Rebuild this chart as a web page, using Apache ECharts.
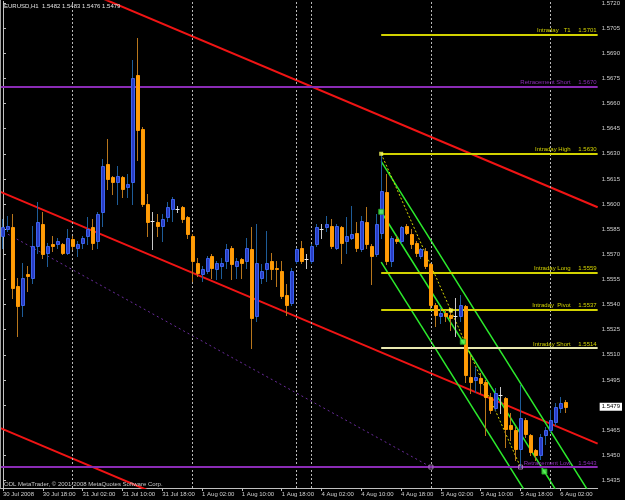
<!DOCTYPE html>
<html><head><meta charset="utf-8">
<script src="https://cdn.jsdelivr.net/npm/echarts@6/dist/echarts.min.js"></script>
<style>html,body{margin:0;padding:0;background:#000;} #c{width:625px;height:500px;}</style>
</head><body><div id="c"></div>
<script>
// ---- data ----
const opens = [1.5581,1.5585,1.5586,1.5551,1.5540,1.5558,1.5556,1.5575,1.5588,1.5571,
1.5576,1.5576,1.5576,1.5571,1.5579,1.5574,1.5577,1.5581,1.5586,1.5578,
1.5595,1.5624,1.5616,1.5613,1.5616,1.5610,1.5613,1.5677,1.5645,1.5600,
1.5590,1.5589,1.5587,1.5592,1.5597,1.5597,1.5598,1.5592,1.5581,1.5565,
1.5558,1.5560,1.5569,1.5561,1.5563,1.5566,1.5574,1.5563,1.5567,1.5566,
1.5573,1.5533,1.5556,1.5561,1.5566,1.5562,1.5560,1.5546,1.5541,1.5566,
1.5574,1.5567,1.5566,1.5576,1.5585,1.5586,1.5587,1.5574,1.5586,1.5578,
1.5580,1.5583,1.5573,1.5589,1.5575,1.5570,1.5583,1.5607,1.5566,1.5579,
1.5578,1.5587,1.5582,1.5577,1.5569,1.5572,1.5564,1.5540,1.5533,1.5535,
1.5534,1.5533,1.5533,1.5539,1.5497,1.5495,1.5496,1.5494,1.5485,1.5478,
1.5486,1.5484,1.5468,1.5465,1.5454,1.5471,1.5462,1.5453,1.5450,1.5462,
1.5465,1.5470,1.5478,1.5482];
const highs = [1.5591,1.5593,1.5594,1.5556,1.5565,1.5563,1.5587,1.5601,1.5595,1.5577,
1.5581,1.5580,1.5577,1.5585,1.5581,1.5578,1.5581,1.5592,1.5591,1.5595,
1.5627,1.5639,1.5617,1.5623,1.5617,1.5618,1.5686,1.5699,1.5646,1.5606,
1.5595,1.5594,1.5594,1.5601,1.5604,1.5599,1.5599,1.5593,1.5582,1.5568,
1.5563,1.5569,1.5570,1.5566,1.5568,1.5576,1.5575,1.5568,1.5568,1.5580,
1.5586,1.5588,1.5564,1.5584,1.5571,1.5566,1.5566,1.5552,1.5562,1.5574,
1.5578,1.5570,1.5576,1.5588,1.5588,1.5593,1.5591,1.5588,1.5587,1.5592,
1.5599,1.5589,1.5593,1.5598,1.5576,1.5594,1.5630,1.5618,1.5581,1.5581,
1.5587,1.5588,1.5585,1.5578,1.5574,1.5574,1.5565,1.5541,1.5538,1.5537,
1.5538,1.5544,1.5546,1.5540,1.5509,1.5503,1.5499,1.5495,1.5487,1.5490,
1.5491,1.5485,1.5475,1.5467,1.5492,1.5472,1.5463,1.5454,1.5463,1.5467,
1.5477,1.5481,1.5485,1.5483];
const lows = [1.5574,1.5584,1.5544,1.5521,1.5533,1.5548,1.5553,1.5571,1.5568,1.5563,
1.5572,1.5574,1.5570,1.5570,1.5573,1.5569,1.5574,1.5576,1.5573,1.5574,
1.5587,1.5609,1.5606,1.5600,1.5604,1.5604,1.5600,1.5626,1.5599,1.5581,
1.5573,1.5581,1.5578,1.5590,1.5590,1.5595,1.5589,1.5580,1.5554,1.5557,
1.5554,1.5559,1.5556,1.5555,1.5556,1.5562,1.5555,1.5556,1.5556,1.5562,
1.5514,1.5530,1.5553,1.5554,1.5555,1.5551,1.5544,1.5534,1.5540,1.5565,
1.5565,1.5562,1.5565,1.5575,1.5580,1.5584,1.5574,1.5573,1.5565,1.5571,
1.5579,1.5572,1.5572,1.5574,1.5552,1.5569,1.5580,1.5564,1.5563,1.5577,
1.5577,1.5582,1.5574,1.5569,1.5568,1.5562,1.5538,1.5527,1.5529,1.5530,
1.5525,1.5521,1.5530,1.5494,1.5487,1.5488,1.5487,1.5462,1.5475,1.5477,
1.5475,1.5455,1.5459,1.5447,1.5443,1.5461,1.5450,1.5447,1.5448,1.5457,
1.5464,1.5468,1.5476,1.5476];
const closes = [1.5586,1.5587,1.5550,1.5539,1.5556,1.5557,1.5575,1.5589,1.5570,1.5575,
1.5575,1.5578,1.5571,1.5580,1.5575,1.5576,1.5580,1.5585,1.5577,1.5594,
1.5623,1.5615,1.5613,1.5617,1.5609,1.5612,1.5675,1.5644,1.5600,1.5589,
1.5590,1.5587,1.5591,1.5598,1.5603,1.5597,1.5591,1.5582,1.5566,1.5559,
1.5561,1.5568,1.5562,1.5565,1.5565,1.5573,1.5564,1.5566,1.5565,1.5574,
1.5532,1.5565,1.5560,1.5565,1.5561,1.5561,1.5545,1.5540,1.5560,1.5573,
1.5566,1.5567,1.5575,1.5586,1.5585,1.5588,1.5575,1.5587,1.5577,1.5581,
1.5582,1.5574,1.5590,1.5576,1.5569,1.5588,1.5608,1.5566,1.5580,1.5578,
1.5586,1.5583,1.5576,1.5571,1.5573,1.5563,1.5540,1.5534,1.5535,1.5533,
1.5532,1.5533,1.5540,1.5498,1.5494,1.5497,1.5493,1.5485,1.5477,1.5487,
1.5486,1.5466,1.5466,1.5454,1.5472,1.5463,1.5452,1.5450,1.5461,1.5465,
1.5471,1.5479,1.5481,1.5479];

const slotCount = 120;               // bars + right shift space
const timeLabels = ['30 Jul 2008','30 Jul 18:00','31 Jul 02:00','31 Jul 10:00','31 Jul 18:00',
  '1 Aug 02:00','1 Aug 10:00','1 Aug 18:00','4 Aug 02:00','4 Aug 10:00','4 Aug 18:00',
  '5 Aug 02:00','5 Aug 10:00','5 Aug 18:00','6 Aug 02:00'];
const labelEvery = 8;
const priceTicks = [1.5435,1.5450,1.5465,1.5480,1.5495,1.5510,1.5525,1.5540,1.5555,1.5570,
  1.5585,1.5600,1.5615,1.5630,1.5645,1.5660,1.5675,1.5690,1.5705,1.5720];
const lastPrice = 1.5479;
const separatorBars = [14, 38, 59, 62, 86, 110];

const levelNames  = ['Intraday   T1', 'Retracement Short', 'Intraday High', 'Intraday Long', 'Intraday  Pivot', 'Intraday Short', 'Retracement Low'];
const levelValues = [1.5701, 1.5670, 1.5630, 1.5559, 1.5537, 1.5514, 1.5443];
const levelFrom   = [76, -0.5, 76, 76, 76, 76, -0.5];

const redUpper = [[-0.5, 1.57484], [119.5, 1.55981]];
const redMid   = [[-0.5, 1.56073], [119.5, 1.54570]];
const redLower = [[-0.5, 1.54662], [119.5, 1.53159]];
const greenUpper = [[76, 1.56255], [119, 1.54221]];
const greenMid   = [[76, 1.55954], [112, 1.54251]];
const greenLower = [[76, 1.55653], [106, 1.54234]];
const greenMarks = [[76, 1.55954], [92.4, 1.55178], [108.8, 1.54403]];
const swingLine  = [[76, 1.5630], [104, 1.5443]];
const swingMarks = [[76, 1.5630], [90, 1.55365]];
const retraceLine = [[1, 1.5582], [86, 1.5443]];
const lowMarks = [[86, 1.5443], [104, 1.5443]];

// ---- styling ----
const FONT = "'Liberation Sans', Arial, sans-serif";
const FS = 6;
const YELLOW = '#D2D200', PURPLE = '#8A2BB4', PALE = '#E8E8B0', RED = '#F01414', GREEN = '#2CEB2C';
const levelColors = [YELLOW, PURPLE, YELLOW, YELLOW, YELLOW, PALE, PURPLE];
const levelTextColors = [YELLOW, PURPLE, YELLOW, YELLOW, YELLOW, YELLOW, PURPLE];

const candleData = opens.map((o, i) => [i, o, closes[i], lows[i], highs[i]]);
const cats = Array.from({length: slotCount}, (_, i) => String(i));

function lineSeries(data, color, width, type) {
  return { type: 'line', xAxisIndex: 1, yAxisIndex: 0, data: data, symbol: 'none',
    lineStyle: { color: color, width: width, type: type || 'solid' }, silent: true, clip: true, z: 3 };
}

const levelMarks = levelNames.map((n, k) => [
  { coord: [levelFrom[k], levelValues[k]],
    lineStyle: { color: levelColors[k], width: 2, type: 'solid' },
    label: { show: true, position: 'insideEndTop', distance: [1, 1],
      formatter: '{n|' + n + '}{v|' + levelValues[k].toFixed(4) + '}',
      rich: { n: { color: levelTextColors[k], fontSize: FS, fontFamily: FONT },
              v: { color: levelTextColors[k], fontSize: FS, fontFamily: FONT, width: 26, align: 'right' } } } },
  { coord: [119.5, levelValues[k]] }
]);

const option = {
  animation: false,
  backgroundColor: '#000000',
  grid: { left: 0, top: 0, right: 25, bottom: 12, containLabel: false },
  xAxis: [{
    type: 'category', data: cats, boundaryGap: true,
    axisLine: { show: true, lineStyle: { color: '#C0C0C0', width: 1 } },
    axisTick: { show: true, interval: labelEvery - 1, alignWithLabel: true, length: 3, lineStyle: { color: '#C0C0C0' } },
    axisLabel: { interval: labelEvery - 1, align: 'left', margin: 3, color: '#D0D0D0', fontSize: FS, fontFamily: FONT,
      formatter: (v, idx) => (idx % labelEvery === 0 && idx / labelEvery < timeLabels.length) ? timeLabels[idx / labelEvery] : '' },
    splitLine: { show: false }
  }, {
    type: 'value', min: -0.5, max: slotCount - 0.5, show: false
  }],
  yAxis: [{
    type: 'value', position: 'right', min: 1.54305, max: 1.5721,
    axisLine: { show: true, lineStyle: { color: '#C0C0C0', width: 1 } },
    axisTick: { show: true, customValues: priceTicks, length: 3, lineStyle: { color: '#C0C0C0' } },
    axisLabel: { customValues: priceTicks, formatter: v => v.toFixed(4), color: '#D0D0D0', fontSize: FS, fontFamily: FONT, margin: 4 },
    splitLine: { show: false }
  }, {
    type: 'value', position: 'right', min: 1.54305, max: 1.5721,
    axisLine: { show: false }, axisTick: { show: false }, splitLine: { show: false },
    axisLabel: { customValues: [lastPrice], formatter: v => v.toFixed(4), color: '#000', backgroundColor: '#FFFFFF',
      padding: [1, 2, 1, 2], fontSize: FS, fontFamily: FONT, margin: 2 }
  }],
  graphic: [
    { type: 'text', left: 4, top: 3, z: 100,
      style: { text: 'EURUSD,H1  ' + [opens[113], highs[113], lows[113], closes[113]].map(v => v.toFixed(4)).join(' '),
        fill: '#E0E0E0', fontSize: FS, fontFamily: FONT } },
    { type: 'text', left: 4, top: 481, z: 100,
      style: { text: 'ODL MetaTrader, \u00A9 2001-2008 MetaQuotes Software Corp.', fill: '#C8C8C8', fontSize: FS, fontFamily: FONT } },
    { type: 'line', z: 100, shape: { x1: 0.5, y1: 0, x2: 0.5, y2: 488 }, style: { stroke: '#A0A0A0', lineWidth: 1 } }
  ],
  series: [
    { type: 'line', xAxisIndex: 1, yAxisIndex: 0, data: [], silent: true, z: 1,
      markLine: { silent: true, symbol: 'none', animation: false,
        data: separatorBars.map(b => ({ xAxis: b, lineStyle: { color: '#B8B8B8', width: 1, type: [2, 2] }, label: { show: false } })) } },
    { type: 'line', xAxisIndex: 1, yAxisIndex: 0, data: [], silent: true, z: 2,
      markLine: { silent: true, symbol: 'none', animation: false, data: levelMarks } },
    lineSeries(retraceLine, '#6A2C9C', 1, [2, 3]),
    lineSeries(redUpper, RED, 2),
    lineSeries(redMid, RED, 2),
    lineSeries(redLower, RED, 2),
    {
      type: 'custom', xAxisIndex: 0, yAxisIndex: 0, data: candleData, z: 5, silent: true,
      encode: { x: 0, y: [1, 2, 3, 4] },
      renderItem: function (params, api) {
        const i = api.value(0), o = api.value(1), c = api.value(2), l = api.value(3), h = api.value(4);
        const pH = api.coord([i, h]), pL = api.coord([i, l]), pO = api.coord([i, o]), pC = api.coord([i, c]);
        const x = Math.floor(pH[0]) + 0.5;
        const yT = Math.round(Math.min(pO[1], pC[1])), yB = Math.round(Math.max(pO[1], pC[1]));
        const children = [];
        let wick, fill, stroke;
        if (o === c) { wick = '#C8C8C8'; }
        else if (c > o) { wick = '#1E5C98'; fill = '#2A3CC4'; stroke = '#3C64EC'; }
        else { wick = '#B8761C'; fill = '#FF9C0A'; stroke = '#FF9900'; }
        children.push({ type: 'line', shape: { x1: x, y1: Math.round(pH[1]), x2: x, y2: Math.round(pL[1]) + 1 },
          style: { stroke: wick, lineWidth: 1 } });
        if (o === c) {
          children.push({ type: 'line', shape: { x1: x - 2, y1: yT + 0.5, x2: x + 2, y2: yT + 0.5 }, style: { stroke: '#F0F0F0', lineWidth: 1 } });
        } else {
          children.push({ type: 'rect', shape: { x: x - 1, y: yT + 0.5, width: 3, height: Math.max(yB - yT, 1) },
            style: { fill: fill, stroke: stroke, lineWidth: 1 } });
        }
        return { type: 'group', children: children };
      }
    },
    lineSeries(greenUpper, GREEN, 1.5),
    lineSeries(greenMid, GREEN, 1.5),
    lineSeries(greenLower, GREEN, 1.5),
    lineSeries(swingLine, '#D8D800', 1, [2, 2]),
    { type: 'scatter', xAxisIndex: 1, yAxisIndex: 0, data: greenMarks, symbol: 'rect', symbolSize: 5, silent: true, z: 6,
      itemStyle: { color: '#5CFF5C', borderColor: '#20B020', borderWidth: 1 } },
    { type: 'scatter', xAxisIndex: 1, yAxisIndex: 0, data: swingMarks, symbol: 'rect', symbolSize: 4, silent: true, z: 6,
      itemStyle: { color: '#FFFF60' } },
    { type: 'scatter', xAxisIndex: 1, yAxisIndex: 0, data: lowMarks, symbol: 'rect', symbolSize: 4, silent: true, z: 6,
      itemStyle: { color: 'rgba(0,0,0,0)', borderColor: '#B090C0', borderWidth: 1 } }
  ]
};

const chart = echarts.init(document.getElementById('c'), null, { renderer: 'canvas' });
chart.setOption(option);
</script>
</body></html>
